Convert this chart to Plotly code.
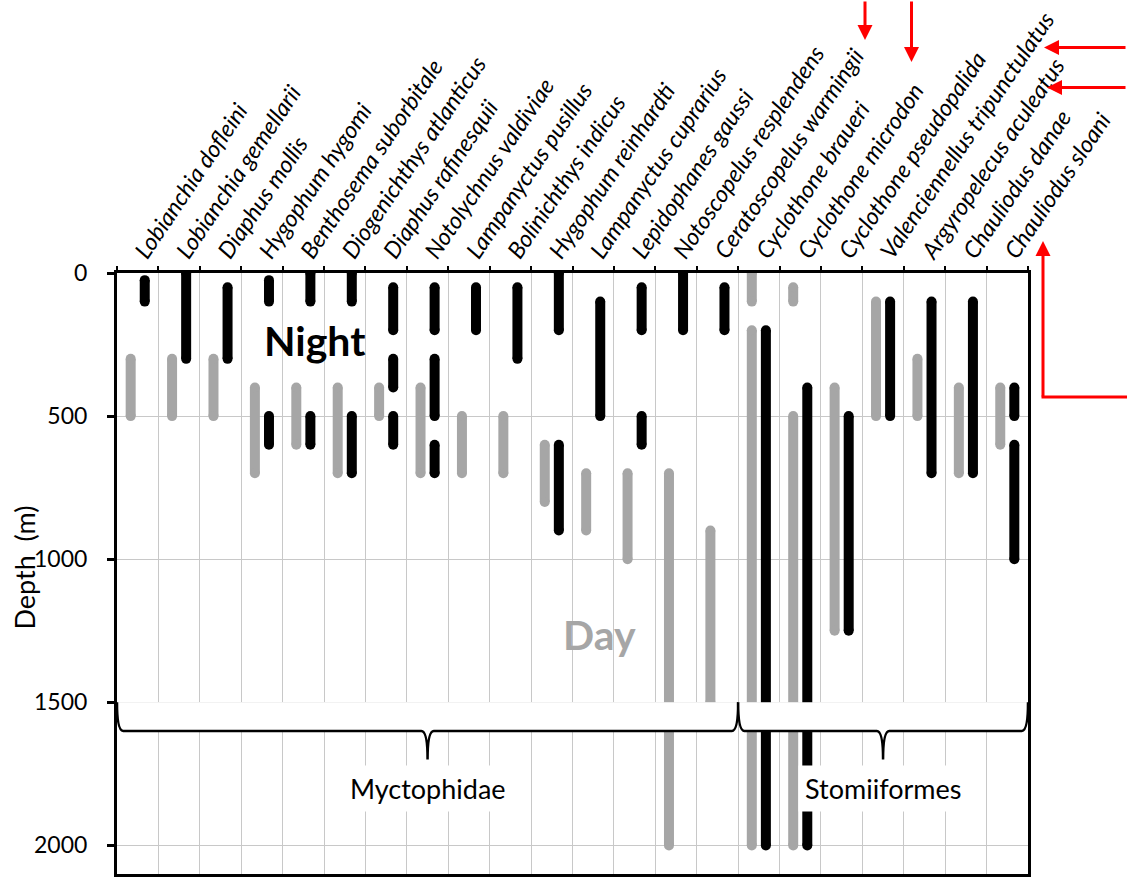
import plotly.graph_objects as go

# ---------------- data ----------------
species = [
    "Lobianchia dofleini", "Lobianchia gemellarii", "Diaphus mollis", "Hygophum hygomi",
    "Benthosema suborbitale", "Diogenichthys atlanticus", "Diaphus rafinesquii",
    "Notolychnus valdiviae", "Lampanyctus pusillus", "Bolinichthys indicus",
    "Hygophum reinhardti", "Lampanyctus cuprarius", "Lepidophanes gaussi",
    "Notoscopelus resplendens", "Ceratoscopelus warmingii", "Cyclothone braueri",
    "Cyclothone microdon", "Cyclothone pseudopalida", "Valenciennellus tripunctulatus",
    "Argyropelecus aculeatus", "Chauliodus danae", "Chauliodus sloani",
]

# depth ranges (m): [top, bottom] segments per species
day_ranges = [
    [[300, 500]], [[300, 500]], [[300, 500]], [[400, 700]], [[400, 600]],
    [[400, 700]], [[400, 500]], [[400, 700]], [[500, 700]], [[500, 700]],
    [[600, 800]], [[700, 900]], [[700, 1000]], [[700, 2000]], [[900, 1500]],
    [[0, 100], [200, 2000]], [[50, 100], [500, 2000]], [[400, 1250]],
    [[100, 500]], [[300, 500]], [[400, 700]], [[400, 600]],
]
night_ranges = [
    [[25, 100]], [[0, 300]], [[50, 300]], [[25, 100], [500, 600]],
    [[0, 100], [500, 600]], [[0, 100], [500, 700]],
    [[50, 200], [300, 400], [500, 600]], [[50, 200], [300, 500], [600, 700]],
    [[50, 200]], [[50, 300]], [[0, 200], [600, 900]], [[100, 500]],
    [[50, 200], [500, 600]], [[0, 200]], [[50, 200]], [[200, 2000]],
    [[400, 2000]], [[500, 1250]], [[100, 500]], [[100, 700]], [[100, 700]],
    [[400, 500], [600, 1000]],
]
depth_ticks = [0, 500, 1000, 1500, 2000]
groups = ["Myctophidae", "Stomiiformes"]
group_bounds = [[0.5, 15.5], [15.5, 22.5]]

GRAY = "#A6A6A6"
BLACK = "#000000"
OFF = 0.17


def segs(ranges, offset):
    xs, ys = [], []
    for i, rr in enumerate(ranges):
        for a, b in rr:
            xs += [i + 1 + offset, i + 1 + offset, None]
            ys += [a, b, None]
    return xs, ys


fig = go.Figure()
for ranges, col, off in [(day_ranges, GRAY, -OFF), (night_ranges, BLACK, OFF)]:
    xs, ys = segs(ranges, off)
    fig.add_trace(go.Scatter(
        x=xs, y=ys, mode="lines+markers",
        line=dict(color=col, width=10),
        marker=dict(color=col, size=10, symbol="circle", line=dict(width=0)),
        hoverinfo="skip", connectgaps=False,
    ))

# ---------------- braces ----------------
d = 0.15
for (xa, xb) in group_bounds:
    c = (xa + xb) / 2
    p = (f"M {xa},1500 Q {xa},1600 {xa+d},1600 L {c-d},1600 Q {c},1600 {c},1700 "
         f"Q {c},1600 {c+d},1600 L {xb-d},1600 Q {xb},1600 {xb},1500")
    fig.add_shape(type="path", path=p + " Z", xref="x", yref="y",
                  fillcolor="white", line=dict(width=0), layer="above")
    fig.add_shape(type="path", path=p, xref="x", yref="y",
                  line=dict(color="black", width=2.5), layer="above")

for g, (xa, xb) in zip(groups, group_bounds):
    fig.add_annotation(x=(xa + xb) / 2, y=1800, xref="x", yref="y", text=g,
                       showarrow=False, bgcolor="white", borderpad=6,
                       font=dict(family="Lato", size=27, color="black"))

fig.add_annotation(x=5.28, y=235, xref="x", yref="y", text="<b>Night</b>",
                   showarrow=False, font=dict(family="Lato", size=41, color="black"))
fig.add_annotation(x=12.14, y=1262, xref="x", yref="y", text="<b>Day</b>",
                   showarrow=False, font=dict(family="Lato", size=41, color=GRAY))

# y title
fig.add_annotation(x=-0.102, y=0.51, xref="paper", yref="paper", text="Depth  (m)",
                   textangle=-90, showarrow=False, xanchor="center", yanchor="middle",
                   font=dict(family="Lato", size=27, color="black"))

# ---------------- red arrows ----------------
W, H = 1127, 879
L, R, T, B = 117, 99, 273, 5
pw, ph = W - L - R, H - T - B


def px(x):
    return (x - L) / pw


def py(y):
    return (H - B - y) / ph


RED = "#FF0000"
for (tx, ty, ax, ay) in [(865, 40, 0, -45), (911.5, 62, 0, -67),
                         (1044, 47.5, 90, 0), (1047, 87.5, 90, 0),
                         (1043, 241, 0, 157)]:
    fig.add_annotation(x=px(tx), y=py(ty), xref="paper", yref="paper", text="",
                       showarrow=True, ax=ax, ay=ay, arrowcolor=RED, arrowwidth=3,
                       arrowhead=2, arrowsize=1, standoff=0)
fig.add_shape(type="line", xref="paper", yref="paper", x0=px(1041.5), x1=px(1130),
              y0=py(397), y1=py(397), line=dict(color=RED, width=3), layer="above")

# ---------------- axes ----------------
fig.update_xaxes(
    range=[0.5, 22.5], side="top", tickmode="array",
    tickvals=list(range(1, len(species) + 1)), ticktext=species,
    tickangle=-56, tickfont=dict(family="Lato", size=23.3, style="italic", color="black"),
    ticks="", showgrid=False, zeroline=False, automargin=False,
    showline=True, linecolor="black", linewidth=3, mirror=True,
    ticklabelstandoff=-5,
    minor=dict(tickmode="linear", tick0=0.5, dtick=1, ticks="outside", ticklen=4,
               tickcolor="black", tickwidth=1.5, showgrid=True,
               gridcolor="#C8C8C8", gridwidth=1),
)
fig.update_yaxes(
    range=[2100, 0], tickmode="array", tickvals=depth_ticks,
    ticks="outside", ticklen=7, tickwidth=2.5, tickcolor="black",
    tickfont=dict(family="Lato", size=23, color="black"), automargin=False,
    showgrid=True, gridcolor="#C8C8C8", gridwidth=1, zeroline=False,
    showline=True, linecolor="black", linewidth=3, mirror=True,
    ticklabelstandoff=15,
)
fig.update_layout(
    width=W, height=H, margin=dict(l=L, r=R, t=T, b=B, pad=0, autoexpand=False),
    plot_bgcolor="white", paper_bgcolor="white", showlegend=False,
    font=dict(family="Lato", color="black"),
)
fig.write_html("out.html")
